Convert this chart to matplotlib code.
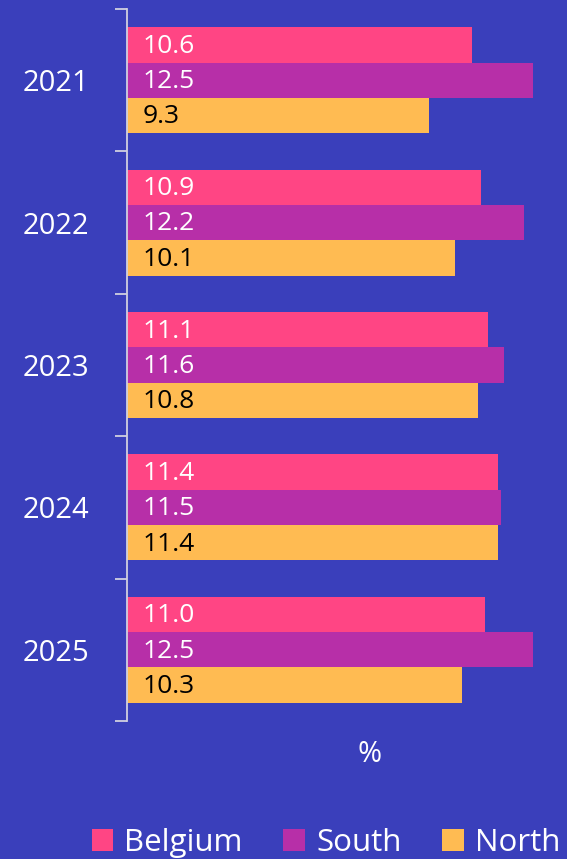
import matplotlib.pyplot as plt
from matplotlib.patches import Patch
import numpy as np

# Data
years = ['2021', '2022', '2023', '2024', '2025']
belgium = [10.6, 10.9, 11.1, 11.4, 11.0]
south = [12.5, 12.2, 11.6, 11.5, 12.5]
north = [9.3, 10.1, 10.8, 11.4, 10.3]

series = [('Belgium', belgium, '#FF4584', 'white'),
          ('South', south, '#B72FA8', 'white'),
          ('North', north, '#FFBB52', 'black')]

bg = '#3A3FBB'
plt.rcParams['font.family'] = ['Open Sans', 'DejaVu Sans']

fig = plt.figure(figsize=(5.67, 8.59), dpi=100, facecolor=bg)
ax = fig.add_axes([127 / 567, 1 - 721 / 859, 440 / 567, 712 / 859])
ax.set_facecolor(bg)

y = np.arange(len(years))
h = 0.248
for i, (name, vals, color, tcolor) in enumerate(series):
    pos = y + (i - 1) * h
    ax.barh(pos, vals, height=h, color=color, edgecolor='none')
    for p, v in zip(pos, vals):
        ax.annotate(f'{v:.1f}', xy=(0, p), xytext=(11.5, -1), textcoords='offset points',
                    ha='left', va='center', color=tcolor, fontsize=19)

ax.set_xlim(0, 440 / 32.5)
ax.set_ylim(len(years) - 0.5, -0.5)

# axis styling
for s in ['top', 'right', 'bottom']:
    ax.spines[s].set_visible(False)
ax.spines['left'].set_color('#d0d0e0')
ax.spines['left'].set_linewidth(1.3)
ax.set_xticks([])
ax.set_yticks(y)
ax.set_yticklabels(years, color='white', fontsize=21)
ax.tick_params(axis='y', which='major', length=0, pad=27)
ax.set_yticks(np.arange(len(years) + 1) - 0.5, minor=True)
ax.tick_params(axis='y', which='minor', length=8.5, width=1.3, color='#d0d0e0')

fig.text(370 / 567, 1 - 754 / 859, '%', color='white', fontsize=21, ha='center', va='center')

handles = [Patch(facecolor=c, edgecolor='none', label=n) for n, _, c, _ in series]
leg = fig.legend(handles=handles, loc='center', bbox_to_anchor=(326 / 567, 1 - 843 / 859),
                 ncol=3, frameon=False, fontsize=22.5, handlelength=0.7, handleheight=0.7,
                 handletextpad=0.35, columnspacing=1.3, borderaxespad=0, borderpad=0)
for t in leg.get_texts():
    t.set_color('white')

fig.savefig('out.png', dpi=100, facecolor=bg)
